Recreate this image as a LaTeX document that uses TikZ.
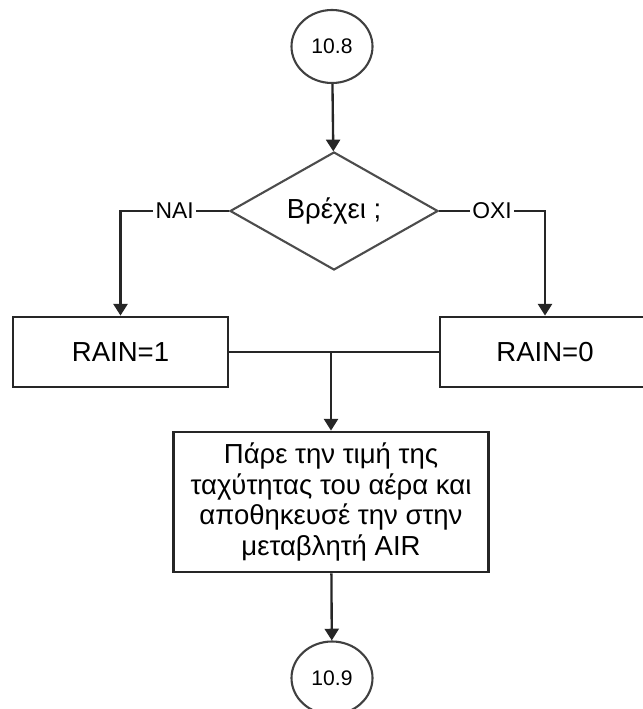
\documentclass[tikz,border=0pt]{standalone}
\usepackage{fontspec}
\setmainfont{Liberation Sans}
\usepackage{xcolor}
\usepackage{tikz}
\usetikzlibrary{arrows.meta,shapes.geometric}

\begin{document}
\begin{tikzpicture}[x=0.03cm,y=-0.03cm,
  font=\fontsize{23.5}{26}\selectfont,
  conn/.style={draw=black!85,line width=2pt},
  arr/.style={conn,-{Triangle[width=12pt,length=10pt]}},
  term/.style={ellipse,draw=black!75,line width=1.8pt,minimum width=2.43cm,minimum height=2.19cm,inner sep=0pt,font=\fontsize{18}{20}\selectfont},
  stepbox/.style={rectangle,draw=black!85,line width=2.4pt,inner sep=2pt,align=center},
  lbl/.style={fill=white,inner sep=2pt,font=\fontsize{19.5}{21}\selectfont}]
  \useasboundingbox (0,0) rectangle (642,709);
  % start and end connectors
  \node[term] (start) at (332,46.5) {10.8};
  \node[term] (stop) at (332,678) {10.9};
  % decision
  \node[diamond,draw=black!70,line width=1.8pt,aspect=2,inner sep=0pt,
        minimum width=6.24cm,minimum height=3.54cm] (rain) at (334,211) {Βρέχει ;};
  % the two branches
  \node[stepbox,minimum width=6.45cm,minimum height=2.1cm] (rainA) at (120.5,352) {RAIN=1};
  \node[stepbox,minimum width=6.3cm,minimum height=2.1cm] (rainB) at (545,352) {RAIN=0};
  % reading the wind speed
  \node[stepbox,minimum width=9.45cm,minimum height=4.2cm] (air) at (331,502)
    {Πάρε την τιμή της\\ ταχύτητας του αέρα και\\ αποθηκευσέ την στην\\ μεταβλητή AIR};
  % connectors
  \draw[arr] (start) -- (rain);
  \draw[arr] (rain.west) -| node[pos=0.25,lbl]{ΝΑΙ} (rainA.north);
  \draw[arr] (rain.east) -| node[pos=0.25,lbl]{ΟΧΙ} (rainB.north);
  \draw[conn] (rainA.east) -- (rainB.west);
  \coordinate (join) at (air.north |- rainA.east);
  \draw[arr] (join) -- (air.north);
  \draw[arr] (air) -- (stop);
\end{tikzpicture}
\end{document}
